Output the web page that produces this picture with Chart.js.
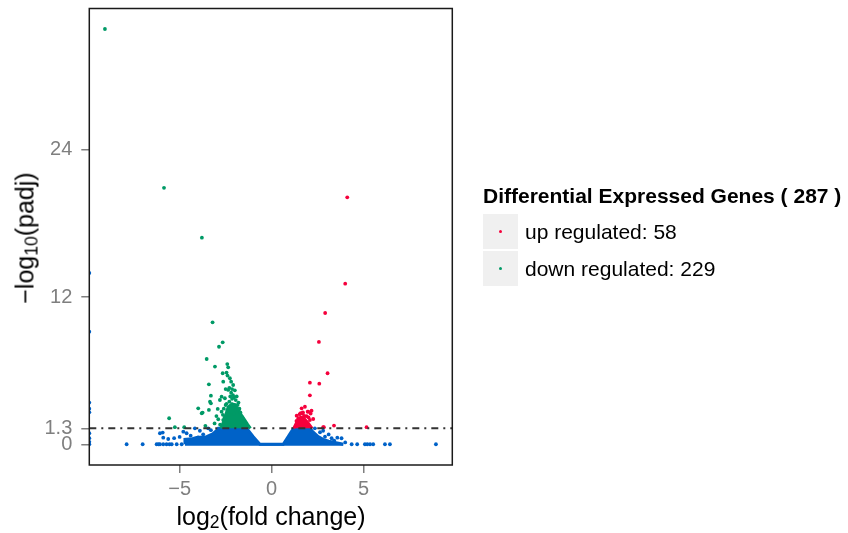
<!DOCTYPE html>
<html>
<head>
<meta charset="utf-8">
<script src="https://cdn.jsdelivr.net/npm/chart.js@4.4.1/dist/chart.umd.min.js"></script>
<style>
  body { margin: 0; background: #fff; }
  #wrap { position: relative; width: 848px; height: 533px; font-family: "Liberation Sans", Arial, sans-serif; }
  canvas { position: absolute; left: 0; top: 0; }
  .ttl { position: absolute; white-space: nowrap; font-size: 25px; color: #000; line-height: 1; }
  .ttl sub { font-size: 70%; vertical-align: -0.2em; line-height: 0; }
  #ytitle { left: 25px; top: 238px; transform: translate(-50%, -50%) rotate(-90deg); }
  #xtitle { left: 271px; top: 516px; transform: translate(-50%, -50%); }
  #legend { position: absolute; left: 483px; top: 184px; font-size: 21px; color: #000; }
  #legend .head { font-weight: bold; height: 29px; }
  #legend .row { display: flex; align-items: center; height: 37px; }
  #legend .key { width: 35px; height: 35px; background: #f0f0f0; position: relative; margin-right: 7px; }
  #legend .key i { position: absolute; left: 16px; top: 16px; width: 3px; height: 3px; border-radius: 50%; }
</style>
</head>
<body>
<div id="wrap">
  <canvas id="volcano" width="848" height="533"></canvas>
  <div id="ytitle" class="ttl">&minus;log<sub>10</sub>(padj)</div>
  <div id="xtitle" class="ttl">log<sub>2</sub>(fold change)</div>
  <div id="legend">
    <div class="head">Differential Expressed Genes ( 287 )</div>
    <div class="row"><span class="key"><i style="background:#f5003c"></i></span>up regulated: 58</div>
    <div class="row"><span class="key"><i style="background:#009a66"></i></span>down regulated: 229</div>
  </div>
</div>
<script>
// axis
const xTicks = [-5, 0, 5];
const yTicks = [0, 1.3, 12, 24];
const xMin = -9.91, xMax = 9.82;
const yMin = -1.69, yMax = 35.52;
const padjCut = 1.3;

// up regulated genes [log2FC, -log10 padj]
const upGenes = [
  [4.11, 20.13], [4.00, 13.09], [2.91, 10.70], [2.57, 8.34], [3.04, 5.79],
  [2.08, 5.02], [2.59, 4.94], [2.08, 3.99], [1.63, 2.93], [1.81, 3.06],
  [1.99, 2.66], [2.17, 2.74], [1.68, 2.53], [1.77, 2.31], [2.26, 2.06],
  [2.08, 1.98], [1.59, 2.20], [3.39, 1.52], [5.16, 1.39], [2.84, 1.39],
  [1.96, 2.66], [1.58, 2.53], [1.76, 2.25], [2.80, 1.39], [1.45, 2.12],
  [1.36, 2.33], [1.52, 2.45], [1.70, 2.60], [1.90, 2.30], [2.00, 2.20],
  [1.35, 1.90], [2.12, 2.50]
];

// down regulated genes
const downGenes = [
  [-9.06, 33.85], [-5.85, 20.90], [-3.79, 16.84], [-3.21, 9.94], [-2.86, 7.95],
  [-2.66, 8.31], [-3.53, 6.95], [-3.08, 6.33], [-2.41, 6.54], [-2.36, 6.27],
  [-2.66, 5.79], [-2.45, 5.84], [-2.27, 5.38], [-2.63, 5.10], [-3.41, 4.89],
  [-2.09, 4.83], [-2.36, 4.43], [-3.30, 3.96], [-2.72, 3.88], [-2.54, 3.75],
  [-2.81, 3.61], [-3.35, 3.47], [-2.30, 3.47], [-3.99, 2.93], [-3.41, 2.80],
  [-2.93, 2.88], [-3.80, 2.53], [-2.72, 2.66], [-2.41, 2.80], [-5.57, 2.12],
  [-2.90, 2.04], [-2.63, 1.98], [-5.26, 1.39], [-4.75, 1.39], [-3.30, 3.34],
  [-3.75, 2.58], [-2.20, 4.20], [-2.00, 4.40], [-1.90, 3.90], [-2.15, 3.70],
  [-2.50, 3.20], [-2.00, 3.20], [-1.80, 3.40], [-2.30, 2.40], [-1.70, 2.60],
  [-2.55, 2.20], [-3.10, 1.70], [-3.00, 2.30], [-2.20, 5.10], [-2.40, 5.60],
  [-2.50, 4.50], [-2.05, 2.50], [-1.60, 2.20], [-1.50, 1.90], [-2.80, 1.60],
  [-3.60, 1.50], [-2.10, 4.00], [-1.95, 3.60], [-2.25, 3.90], [-2.45, 3.30],
  [-2.60, 2.90], [-1.85, 3.20], [-2.30, 4.60], [-2.15, 4.50], [-2.05, 3.80],
  [-1.75, 2.90], [-2.35, 3.00], [-2.65, 2.40]
];

// not significant genes, scattered outside the dense mass
const otherGenes = [
  [-7.88, 0], [-7.01, 0], [-6.25, 0], [-6.07, 0], [-5.89, 0], [-5.71, 0],
  [-5.43, 0], [-5.16, 0], [-4.89, 0], [-6.15, 0], [-5.55, 0],
  [-5.89, 0.54], [-5.62, 0.43], [-6.07, 0.90], [-4.80, 1.03], [-4.62, 0.90],
  [-4.17, 1.30], [-3.72, 0.81], [-3.45, 1.30], [-5.92, 0.95], [-4.40, 0.70],
  [-3.90, 1.10], [-5.30, 0.50], [-5.00, 0.60], [-4.00, 0.55], [-3.30, 1.15],
  [4.35, 0], [4.65, 0], [5.07, 0], [5.20, 0], [5.35, 0], [5.52, 0],
  [6.16, 0], [6.43, 0], [8.93, 0], [3.26, 0.49], [3.57, 0.54], [3.80, 0.49],
  [2.90, 0.62], [2.63, 0.98], [2.35, 1.30], [3.10, 0.80], [3.40, 0.30],
  [4.00, 0.15], [2.80, 1.10],
  [-9.91, 13.96], [-9.91, 9.18], [-9.91, 3.40], [-9.91, 2.90], [-9.91, 2.60],
  [-9.91, 0.90], [-9.91, 0.50], [-9.91, 0.20], [-9.91, 0]
];

// upper edge of the solid point masses
const denseOtherX = [-4.71, -4.71, -4.30, -4.08, -3.53, -3.20, -3.00, -2.90, -1.36, -1.00, -0.64, 0.63, 0.90, 1.09, 1.21, 2.08, 2.26, 2.53, 2.80, 3.10, 3.50, 3.90];
const denseOtherY = [0, 0.40, 0.45, 0.55, 0.62, 0.85, 1.10, 1.30, 1.30, 0.62, 0, 0, 0.62, 1.08, 1.30, 1.30, 0.98, 0.62, 0.40, 0.25, 0.12, 0];
const denseDownX = [-2.75, -2.60, -2.45, -2.30, -2.15, -2.00, -1.85, -1.65, -1.45, -1.30, -1.15];
const denseDownY = [1.30, 1.90, 2.60, 3.10, 3.30, 3.20, 2.90, 2.40, 1.95, 1.60, 1.30];
const denseUpX = [1.20, 1.35, 1.50, 1.65, 1.80, 1.95, 2.10, 2.20];
const denseUpY = [1.30, 1.75, 2.00, 2.15, 2.05, 1.80, 1.50, 1.30];

const RED = "#f5003c", GREEN = "#009a66", BLUE = "#0062c8";
const FONT = "'Liberation Sans', Arial, sans-serif";

const toXY = (arr) => arr.map(([x, y]) => ({ x: x, y: y }));
const zipXY = (xs, ys) => xs.map((x, i) => ({ x: x, y: ys[i] }));

const panelBox = {
  id: "panelBox",
  afterDatasetsDraw(chart) {
    const { ctx, chartArea } = chart;
    ctx.save();
    ctx.strokeStyle = "#1a1a1a";
    ctx.lineWidth = 1.5;
    ctx.strokeRect(chartArea.left, chartArea.top, chartArea.right - chartArea.left, chartArea.bottom - chartArea.top);
    ctx.restore();
  }
};

const dots = (data, color, order) => ({
  type: "scatter",
  data: toXY(data),
  backgroundColor: color,
  borderWidth: 0,
  pointRadius: 1.9,
  clip: 0,
  order: order
});

const mass = (xs, ys, color, base, order) => ({
  type: "line",
  data: zipXY(xs, ys),
  borderColor: color,
  backgroundColor: color,
  borderWidth: 3,
  pointRadius: 0,
  tension: 0,
  showLine: true,
  fill: { value: base },
  order: order
});

const noPad = (scale) => {
  scale.paddingTop = 0;
  scale.paddingBottom = 0;
  scale.paddingLeft = 0;
  scale.paddingRight = 0;
};

new Chart(document.getElementById("volcano"), {
  type: "scatter",
  data: {
    datasets: [
      {
        type: "line",
        data: [{ x: xMin, y: padjCut }, { x: xMax, y: padjCut }],
        borderColor: "#333333",
        borderWidth: 2,
        borderDash: [7, 5, 2, 5],
        pointRadius: 0,
        fill: false,
        order: 0
      },
      dots(upGenes, RED, 1),
      dots(downGenes, GREEN, 1),
      dots(otherGenes, BLUE, 2),
      mass(denseUpX, denseUpY, RED, padjCut, 3),
      mass(denseDownX, denseDownY, GREEN, padjCut, 3),
      mass(denseOtherX, denseOtherY, BLUE, -0.12, 4)
    ]
  },
  options: {
    responsive: false,
    animation: false,
    devicePixelRatio: 1,
    layout: { padding: { left: 0, top: 8.5, right: 395.7, bottom: 0 } },
    plugins: { legend: { display: false }, tooltip: { enabled: false } },
    scales: {
      x: {
        type: "linear",
        min: xMin,
        max: xMax,
        afterBuildTicks: (scale) => { scale.ticks = xTicks.map((v) => ({ value: v })); },
        afterFit: (scale) => { scale.height = 68; noPad(scale); },
        ticks: {
          color: "#7f7f7f",
          font: { size: 20, family: FONT },
          padding: 4,
          autoSkip: false,
          maxRotation: 0,
          callback: (v) => String(v).replace("-", "\u2212")
        },
        grid: { drawOnChartArea: false, drawTicks: true, tickLength: 8, color: "#7f7f7f", lineWidth: 1.5 },
        border: { display: false }
      },
      y: {
        type: "linear",
        min: yMin,
        max: yMax,
        afterBuildTicks: (scale) => { scale.ticks = yTicks.map((v) => ({ value: v })); },
        afterFit: (scale) => { scale.width = 89.3; noPad(scale); },
        ticks: {
          color: "#7f7f7f",
          font: { size: 20, family: FONT },
          padding: 9,
          autoSkip: false,
          callback: (v) => String(v)
        },
        grid: { drawOnChartArea: false, drawTicks: true, tickLength: 8, color: "#7f7f7f", lineWidth: 1.5 },
        border: { display: false }
      }
    }
  },
  plugins: [panelBox]
});
</script>
</body>
</html>
